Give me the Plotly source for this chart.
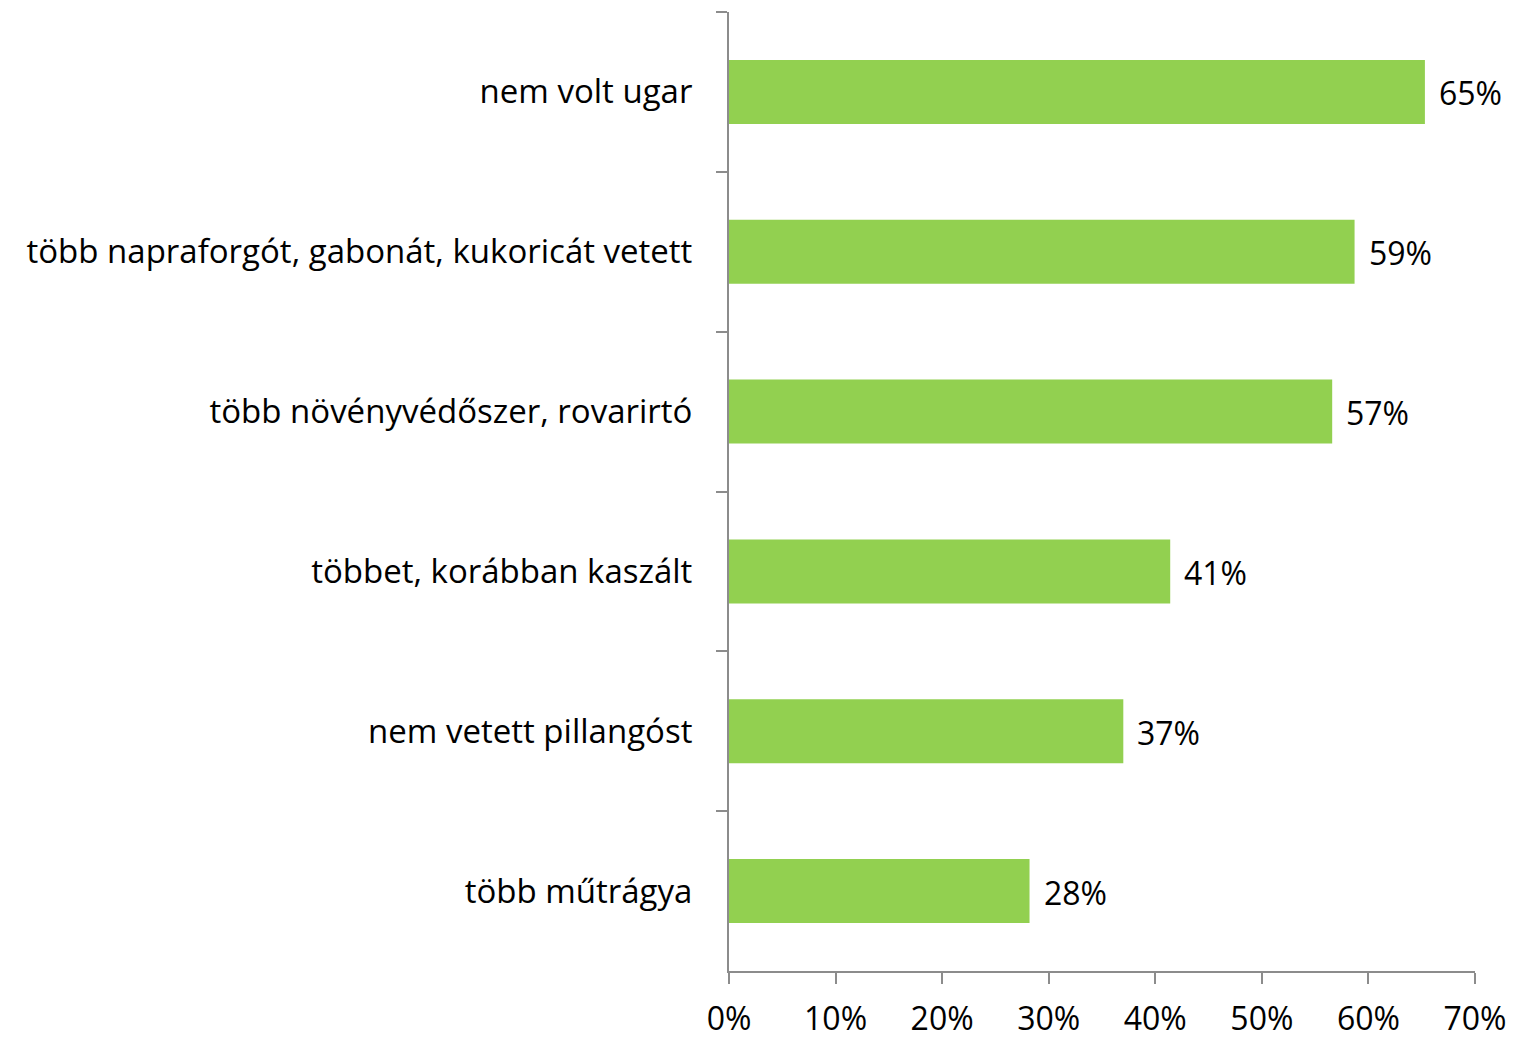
import plotly.graph_objects as go

categories = [
    "nem volt ugar",
    "több napraforgót, gabonát, kukoricát vetett",
    "több növényvédőszer, rovarirtó",
    "többet, korábban kaszált",
    "nem vetett pillangóst",
    "több műtrágya",
]
values = [0.653, 0.587, 0.566, 0.414, 0.370, 0.282]
labels = ["65%", "59%", "57%", "41%", "37%", "28%"]
x_ticks = [0, 0.1, 0.2, 0.3, 0.4, 0.5, 0.6, 0.7]
x_tick_labels = ["0%", "10%", "20%", "30%", "40%", "50%", "60%", "70%"]

FONT = "Open Sans"
FS = 33
AXIS = "#8c8c8c"

fig = go.Figure()
fig.add_trace(go.Bar(
    x=values, y=categories, orientation="h",
    marker=dict(color="#92D050", line=dict(width=0)),
    hoverinfo="skip",
))

for v, c, t in zip(values, categories, labels):
    fig.add_annotation(x=v, y=c, text=t, showarrow=False, xanchor="left",
                       xshift=12, yshift=-1,
                       font=dict(family=FONT, size=FS - 1, color="#000000"))

fig.update_layout(
    width=1508, height=1030,
    margin=dict(l=721, r=41, t=4, b=67, autoexpand=False),
    paper_bgcolor="white", plot_bgcolor="white",
    bargap=0.6, showlegend=False,
    font=dict(family=FONT, size=FS, color="#000000"),
)
fig.update_xaxes(
    range=[0, 0.7], tickvals=x_ticks, ticktext=x_tick_labels, automargin=False,
    showgrid=False, zeroline=False, showline=True, linecolor=AXIS, linewidth=2,
    ticks="outside", ticklen=11, tickwidth=2, tickcolor=AXIS,
    ticklabelstandoff=8,
    tickfont=dict(family=FONT, size=FS - 1, color="#000000"),
)
fig.update_yaxes(
    categoryorder="array", categoryarray=categories, autorange="reversed",
    automargin=False,
    showgrid=False, zeroline=False, showline=True, linecolor=AXIS, linewidth=2,
    ticks="outside", ticklen=11, tickwidth=2, tickcolor=AXIS, tickson="boundaries",
    ticklabelstandoff=28,
    tickfont=dict(family=FONT, size=FS, color="#000000"),
)

fig.write_html("out.html")
